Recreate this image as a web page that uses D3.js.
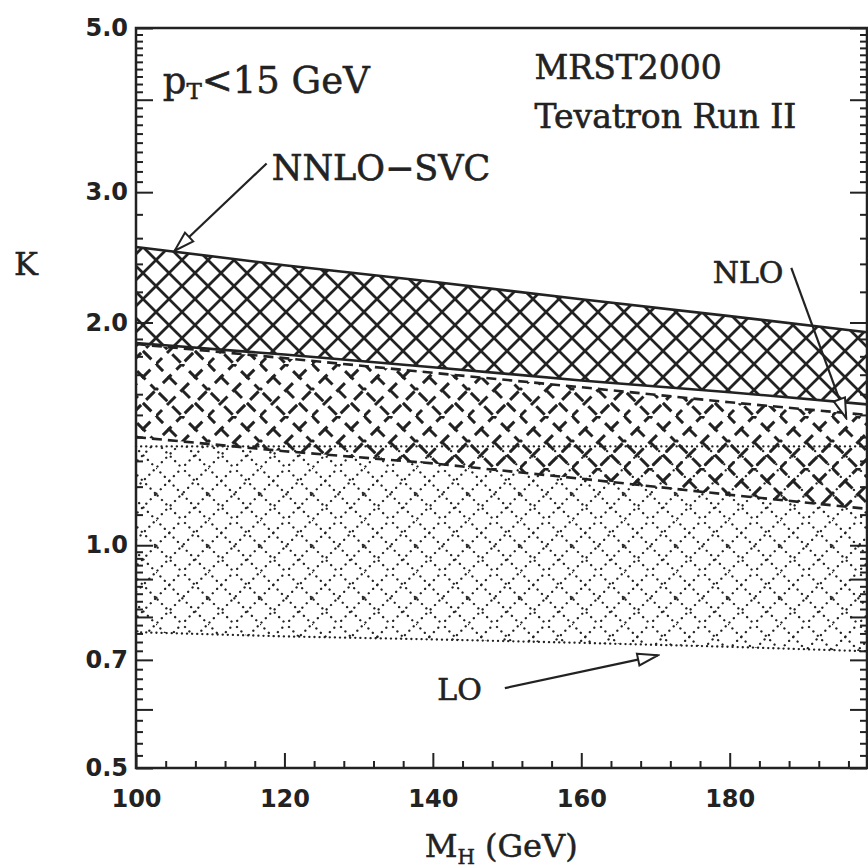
<!DOCTYPE html>
<html>
<head>
<meta charset="utf-8">
<script src="https://cdn.jsdelivr.net/npm/d3@7"></script>
<style>
  body { margin: 0; background: #fff; }
  text { fill: #222; }
</style>
</head>
<body>
<div id="chart"></div>
<script>
// K-factor bands vs Higgs mass
const mass = [100, 120, 140, 160, 180, 198.5];
const nnloHigh = [2.53, 2.39, 2.27, 2.15, 2.04, 1.94];
const nnloLow = [1.876, 1.81, 1.74, 1.67, 1.61, 1.55];
const nloHigh = [1.87, 1.79, 1.71, 1.635, 1.56, 1.50];
const nloLow = [1.40, 1.34, 1.29, 1.23, 1.17, 1.12];
const loHigh = [1.36, 1.36, 1.36, 1.36, 1.36, 1.36];
const loLow = [0.763, 0.753, 0.746, 0.738, 0.729, 0.719];

const xMajor = [100, 120, 140, 160, 180];
const yMajor = [0.5, 0.6, 0.7, 0.8, 0.9, 1.0, 2.0, 3.0, 4.0, 5.0];
const yLabels = [0.5, 0.7, 1.0, 2.0, 3.0, 5.0];

// annotation anchors in data units
const labels = [
  { text: "MRST2000", m: 153.7, k: 4.27, size: 33 },
  { text: "Tevatron Run II", m: 153.7, k: 3.66, size: 33 },
  { text: "NNLO\u2212SVC", m: 118.3, k: 3.12, size: 35 },
  { text: "NLO", m: 177.7, k: 2.26, size: 30 },
  { text: "LO", m: 140.6, k: 0.618, size: 30 }
];
const arrows = [
  { from: [117.6, 3.28], to: [105.2, 2.50] },
  { from: [188.3, 2.37], to: [195.7, 1.485] },
  { from: [149.7, 0.641], to: [170.3, 0.71] }
];

const width = 868, height = 868;
const ink = "#222";

const svg = d3.select("#chart").append("svg")
  .attr("width", width)
  .attr("height", height);

const x = d3.scaleLinear().domain([100, 198.5]).range([136, 867]);
const y = d3.scaleLog().domain([0.5, 5]).range([768, 28]);

// fill patterns: diagonal lattice of 26px cells in a 52px tile;
// every segment gets its own dash offset so broken hatches vary
const defs = svg.append("defs");
const tileSegs = [
  "M0,0L52,52", "M26,0L52,26", "M0,26L26,52",
  "M52,0L0,52", "M26,0L0,26", "M52,26L26,52"
];
function hatch(id, dash, offsets, sw, cap) {
  const p = defs.append("pattern")
    .attr("id", id)
    .attr("patternUnits", "userSpaceOnUse")
    .attr("width", 52).attr("height", 52);
  tileSegs.forEach((d, i) => {
    p.append("path")
      .attr("d", d)
      .attr("fill", "none")
      .attr("stroke", ink)
      .attr("stroke-width", sw)
      .attr("stroke-linecap", cap)
      .attr("stroke-dasharray", dash)
      .attr("stroke-dashoffset", offsets[i]);
  });
}
hatch("hatchNNLO", null, [0, 0, 0, 0, 0, 0], 2.7, "square");
hatch("hatchNLO", "12 7", [2, 9, 15, 11, 4, 17], 3, "butt");
hatch("hatchLO", "0.1 6.1", [0, 2, 4, 3, 1, 5], 2.3, "round");

const rows = (hi, lo) => mass.map((m, i) => ({ m, hi: hi[i], lo: lo[i] }));
const area = d3.area().x(d => x(d.m)).y0(d => y(d.lo)).y1(d => y(d.hi));
const line = key => d3.line().x(d => x(d.m)).y(d => y(d[key]));

const bands = [
  { data: rows(loHigh, loLow), fill: "url(#hatchLO)", dash: "0.1 5", sw: 2.3, cap: "round" },
  { data: rows(nloHigh, nloLow), fill: "url(#hatchNLO)", dash: "10 6", sw: 2.6, cap: "butt" },
  { data: rows(nnloHigh, nnloLow), fill: "url(#hatchNNLO)", dash: null, sw: 2.6, cap: "butt" }
];

bands.forEach(b => {
  svg.append("path").datum(b.data)
    .attr("d", area)
    .attr("fill", b.fill);
  ["hi", "lo"].forEach(k => {
    svg.append("path").datum(b.data)
      .attr("d", line(k))
      .attr("fill", "none")
      .attr("stroke", ink)
      .attr("stroke-width", b.sw)
      .attr("stroke-linecap", b.cap)
      .attr("stroke-dasharray", b.dash);
  });
});

// axes
const xMinor = d3.range(104, 198, 4).filter(v => v % 20 !== 0);
const yMinor = [].concat(
  d3.range(0.52, 0.99, 0.02),
  d3.range(1.1, 1.95, 0.1),
  d3.range(2.2, 2.9, 0.2),
  d3.range(3.1, 3.95, 0.1),
  d3.range(4.1, 4.95, 0.1)
).filter(v => !yMajor.some(t => Math.abs(t - v) < 1e-6));

function styleAxis(g) {
  g.select(".domain").remove();
  g.selectAll(".tick line").attr("stroke", ink).attr("stroke-width", 2);
  g.selectAll("text")
    .attr("font-family", "DejaVu Sans")
    .attr("font-weight", "bold")
    .attr("font-size", 24)
    .attr("fill", ink);
}

svg.append("g").attr("transform", "translate(0,768)")
  .call(d3.axisBottom(x).tickValues(xMajor).tickSizeInner(-15).tickSizeOuter(0)
    .tickPadding(22).tickFormat(d3.format("d")))
  .call(styleAxis);
svg.append("g").attr("transform", "translate(0,768)")
  .call(d3.axisBottom(x).tickValues(xMinor).tickSizeInner(-7).tickSizeOuter(0).tickFormat(""))
  .call(styleAxis);

svg.append("g").attr("transform", "translate(136,0)")
  .call(d3.axisLeft(y).tickValues(yMajor).tickSizeInner(-17).tickSizeOuter(0).tickPadding(8)
    .tickFormat(d => yLabels.includes(d) ? d3.format(".1f")(d) : ""))
  .call(styleAxis);
svg.append("g").attr("transform", "translate(136,0)")
  .call(d3.axisLeft(y).tickValues(yMinor).tickSizeInner(-7).tickSizeOuter(0).tickFormat(""))
  .call(styleAxis);

svg.append("g").attr("transform", "translate(867,0)")
  .call(d3.axisRight(y).tickValues(yMajor).tickSizeInner(-17).tickSizeOuter(0).tickFormat(""))
  .call(styleAxis);
svg.append("g").attr("transform", "translate(867,0)")
  .call(d3.axisRight(y).tickValues(yMinor).tickSizeInner(-7).tickSizeOuter(0).tickFormat(""))
  .call(styleAxis);

// frame
svg.append("rect")
  .attr("x", x(100)).attr("y", y(5))
  .attr("width", x(198.5) - x(100)).attr("height", y(0.5) - y(5))
  .attr("fill", "none")
  .attr("stroke", ink)
  .attr("stroke-width", 2.5);

// arrows with open heads
defs.append("marker")
  .attr("id", "openHead")
  .attr("markerUnits", "userSpaceOnUse")
  .attr("viewBox", "0 -8 24 16")
  .attr("refX", 22).attr("refY", 0)
  .attr("markerWidth", 24).attr("markerHeight", 16)
  .attr("orient", "auto")
  .append("path")
  .attr("d", "M2,-6L22,0L2,6Z")
  .attr("fill", "#fff")
  .attr("stroke", ink)
  .attr("stroke-width", 2);

svg.selectAll(".arrow").data(arrows).enter().append("line")
  .attr("class", "arrow")
  .attr("x1", d => x(d.from[0])).attr("y1", d => y(d.from[1]))
  .attr("x2", d => x(d.to[0])).attr("y2", d => y(d.to[1]))
  .attr("stroke", ink)
  .attr("stroke-width", 2.2)
  .attr("marker-end", "url(#openHead)");

svg.selectAll(".note").data(labels).enter().append("text")
  .attr("class", "note")
  .attr("x", d => x(d.m)).attr("y", d => y(d.k))
  .attr("font-family", "DejaVu Serif")
  .attr("font-size", d => d.size)
  .attr("stroke", ink)
  .attr("stroke-width", 0.6)
  .text(d => d.text);

// pT cut label
const pt = svg.append("text")
  .attr("x", x(103.6)).attr("y", y(4.09))
  .attr("font-family", "DejaVu Serif")
  .attr("font-size", 37)
  .attr("stroke", ink)
  .attr("stroke-width", 0.5);
pt.append("tspan").text("p");
pt.append("tspan").attr("font-size", 23).attr("dy", 6).text("T");
pt.append("tspan").attr("dy", -6).text("<15 GeV");

// axis titles
svg.append("text")
  .attr("x", x(100) - 122).attr("y", y(2.32))
  .attr("font-family", "DejaVu Serif")
  .attr("font-size", 32)
  .attr("stroke", ink)
  .attr("stroke-width", 0.5)
  .text("K");

const xt = svg.append("text")
  .attr("x", x(149.2)).attr("y", 857)
  .attr("text-anchor", "middle")
  .attr("font-family", "DejaVu Serif")
  .attr("font-size", 32)
  .attr("stroke", ink)
  .attr("stroke-width", 0.5);
xt.append("tspan").text("M");
xt.append("tspan").attr("font-size", 20).attr("dy", 7).text("H");
xt.append("tspan").attr("dy", -7).text(" (GeV)");
</script>
</body>
</html>
